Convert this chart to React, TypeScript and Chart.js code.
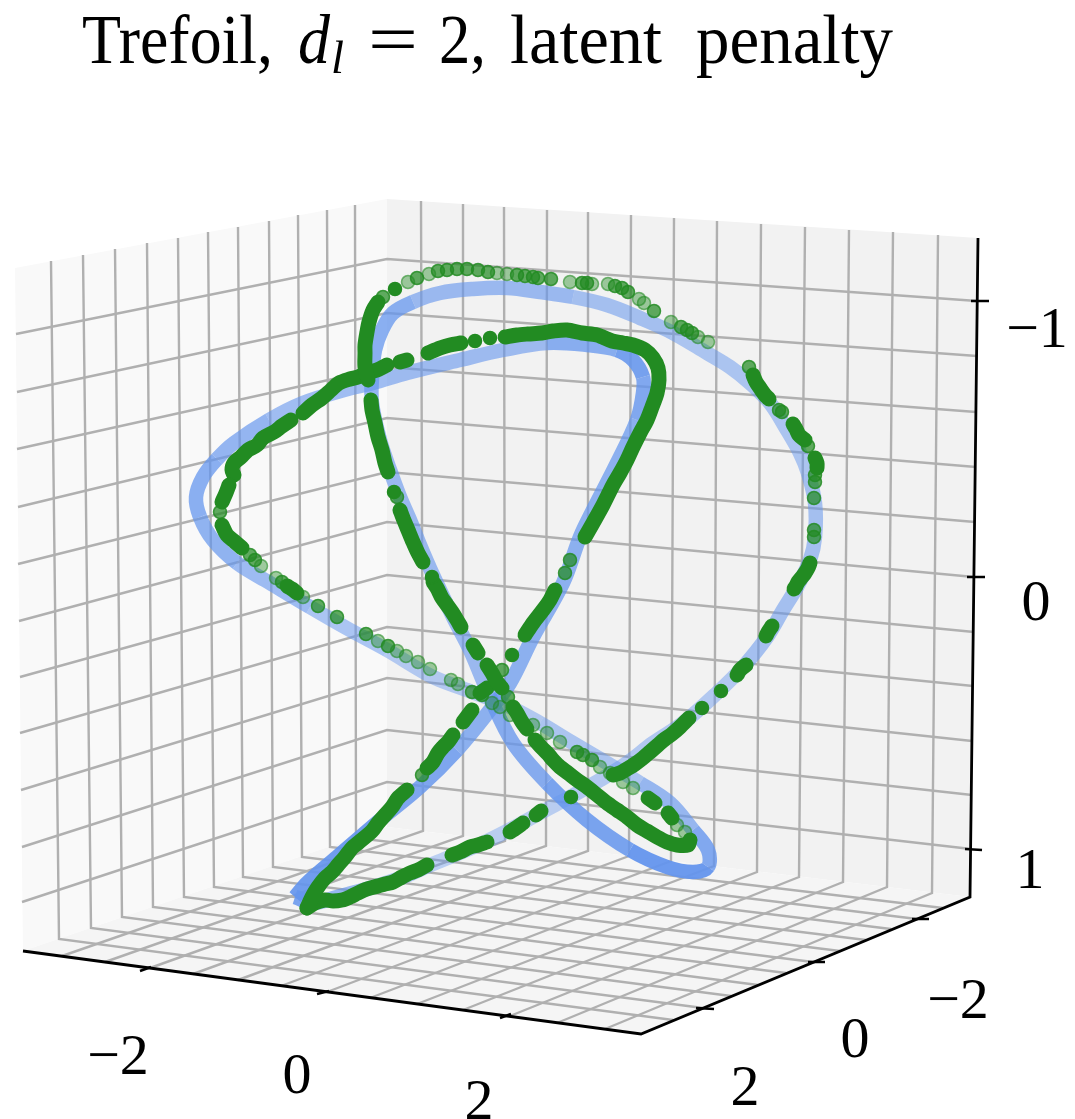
import React, { useEffect, useRef } from "react";
import { Chart, registerables } from "chart.js";

Chart.register(...registerables);

type P = [number, number];

const WIDTH = 1075;
const HEIGHT = 1119;

// --- axes box, as seen in the projected picture ---
const paneLeft: P[] = [[15, 268], [387, 199], [387, 827], [23, 951]];
const paneRight: P[] = [[387, 199], [978, 238], [970, 897], [387, 827]];
const paneFloor: P[] = [[23, 951], [387, 827], [970, 897], [641, 1034]];
const spine: P[] = [[23, 951], [641, 1034], [970, 897], [978, 238]];

const leftVertTop: P[] = [[51, 261], [83, 255], [115, 249], [147, 243], [178, 238], [208, 232], [238, 227], [269, 221], [298, 215], [327, 210], [355, 205]];
const leftVertBottom: P[] = [[59, 939], [91, 928], [122, 917], [153, 907], [184, 897], [214, 887], [243, 877], [273, 867], [302, 857], [330, 847], [356, 838]];
const floorFront: P[] = [[673, 1020], [703, 1008], [731, 996], [758, 985], [786, 973], [813, 962], [840, 951], [866, 940], [891, 929], [917, 919], [943, 908]];

const rightVertTop: P[] = [[421, 201], [463, 204], [504, 207], [547, 210], [588, 212], [631, 215], [674, 218], [717, 221], [761, 224], [805, 227], [849, 230], [893, 232], [938, 235]];
const rightVertBottom: P[] = [[423, 831], [463, 836], [505, 841], [546, 846], [588, 851], [629, 856], [671, 861], [714, 866], [757, 872], [799, 877], [843, 882], [887, 887], [932, 893]];
const floorLeftEdge: P[] = [[62, 956], [105, 962], [150, 968], [193, 974], [238, 980], [281, 986], [327, 992], [370, 998], [417, 1004], [463, 1010], [510, 1016], [557, 1023], [605, 1029]];

const horizLeft: P[] = [[16, 334], [17, 392], [17, 449], [18, 507], [18, 564], [19, 621], [20, 677], [20, 733], [21, 790], [22, 847], [22, 902]];
const horizBack: P[] = [[387, 259], [387, 313], [387, 367], [387, 418], [387, 472], [387, 522], [387, 575], [387, 627], [387, 678], [387, 730], [387, 782]];
const horizRight: P[] = [[977, 301], [977, 356], [976, 412], [976, 467], [975, 522], [974, 577], [974, 632], [973, 686], [972, 741], [972, 795], [971, 849]];

const tickMarks: [P, P][] = [
  [[971, 301], [989, 301]], [[967, 577], [985, 577]], [[965, 849], [982, 850]],
  [[140, 971], [151, 967]], [[317, 994], [329, 991]], [[500, 1018], [511, 1014]],
  [[912, 919], [929, 919]], [[808, 962], [825, 962]], [[696, 1008], [714, 1009]],
];

// --- tick labels ---
const zTickLabels = ["\u22121", "0", "1"];
const xTickLabels = ["\u22122", "0", "2"];
const yTickLabels = ["\u22122", "0", "2"];
const zTickPos: P[] = [[1037, 347], [1036, 620], [1030, 888]];
const xTickPos: P[] = [[118, 1074], [297, 1093], [479, 1119]];
const yTickPos: P[] = [[958, 1018], [855, 1057], [745, 1105]];

// --- the reference curve (blue), traced around its whole loop; each piece has one depth shade ---
const blueCurve: P[][] = [
  [[295, 897], [307, 883], [337, 857]],
  [[380, 820], [420, 787]],
  [[457, 750], [490, 710], [510, 683], [533, 637], [563, 583], [580, 537], [593, 510], [617, 463]],
  [[637, 420], [643, 393]],
  [[643, 377], [633, 360]],
  [[617, 350], [587, 345]],
  [[547, 343], [503, 350], [460, 360], [407, 373]],
  [[373, 383], [344, 390], [303, 403]],
  [[269, 420], [234, 443]],
  [[217, 459], [203, 477], [196, 497]],
  [[200, 517], [213, 540]],
  [[237, 563], [270, 583]],
  [[310, 607], [350, 630]],
  [[387, 650], [433, 677], [467, 690], [510, 707]],
  [[540, 723], [573, 743], [607, 763]],
  [[640, 783], [670, 803]],
  [[693, 830], [708, 850]],
  [[708, 867], [693, 872], [667, 867]],
  [[630, 850], [587, 820]],
  [[547, 783], [513, 743]],
  [[490, 697], [470, 650], [453, 617], [433, 575], [420, 545], [410, 520], [400, 497], [390, 470]],
  [[380, 440], [372, 403]],
  [[372, 377], [375, 350], [382, 330], [393, 313]],
  [[413, 302], [440, 293], [473, 289], [507, 288], [540, 292]],
  [[573, 297], [607, 305], [640, 318]],
  [[673, 333], [707, 353], [730, 367], [750, 383], [770, 403], [787, 430], [800, 453]],
  [[808, 473], [815, 503], [815, 537], [810, 560], [797, 587], [783, 610], [767, 637]],
  [[743, 667], [717, 693], [683, 723], [653, 743], [627, 763], [600, 780]],
  [[570, 797], [540, 813], [513, 828], [483, 843], [450, 857]],
  [[430, 865], [403, 877]],
  [[370, 888], [337, 897]],
  [[313, 903], [295, 897]],
];
const blueShade = [0.92, 0.82, 0.72, 0.8, 0.88, 0.75, 0.6, 0.6, 0.68, 0.75, 0.7, 0.62, 0.52, 0.45, 0.5, 0.65, 0.8, 0.95, 0.85, 0.76, 0.62, 0.68, 0.75, 0.62, 0.55, 0.5, 0.55, 0.45, 0.4, 0.5, 0.65, 0.85];

// --- decoded points (green): unbroken runs ---
const greenRuns: P[][] = [
  [[753, 375], [756, 382], [760, 388], [765, 395], [769, 399]],
  [[793, 424], [796, 429], [799, 435], [805, 440]],
  [[815, 458], [817, 463], [817, 468]],
  [[810, 563], [808, 568], [805, 573], [802, 577], [798, 582], [796, 586], [794, 589]],
  [[772, 626], [768, 632], [766, 636]],
  [[746, 665], [740, 670], [737, 675]],
  [[689, 718], [680, 727], [672, 734], [665, 739], [658, 745], [650, 752], [643, 758], [635, 764], [627, 769], [620, 773], [613, 775]],
  [[541, 811], [536, 815]],
  [[523, 823], [516, 828], [510, 832]],
  [[487, 842], [478, 845], [470, 847], [460, 852], [452, 855]],
  [[427, 865], [418, 870], [410, 873], [402, 877], [393, 882], [385, 884], [378, 886], [367, 889], [358, 893], [350, 897], [342, 900], [333, 901], [325, 900], [315, 903], [307, 908]],
  [[307, 908], [312, 897], [318, 887], [325, 878], [332, 872], [338, 865], [345, 857], [352, 848], [358, 843], [372, 831], [378, 823], [385, 815], [392, 807], [398, 798], [407, 790]],
  [[427, 768], [433, 762], [438, 753], [443, 747], [448, 742], [453, 735]],
  [[463, 722], [472, 710]],
  [[480, 693], [487, 688]],
  [[525, 635], [533, 623], [543, 610], [550, 600], [555, 590]],
  [[585, 537], [593, 523], [603, 505], [613, 485], [620, 473], [627, 460], [633, 447], [640, 433], [647, 420], [652, 407], [657, 393], [659, 380], [658, 368], [653, 358], [645, 350], [633, 345], [623, 343], [612, 341], [597, 335], [582, 333], [567, 330], [553, 331], [542, 333], [528, 334], [517, 335], [505, 337]],
  [[461, 343], [450, 345], [440, 348], [428, 353]],
  [[407, 360], [400, 362]],
  [[387, 365], [377, 370], [367, 373], [358, 377], [350, 379], [339, 383], [331, 390], [322, 398], [312, 405], [303, 413]],
  [[291, 420], [282, 426], [274, 432], [263, 438], [257, 445], [248, 450], [241, 457], [234, 463], [232, 470], [234, 475]],
  [[229, 485], [226, 493], [222, 502]],
  [[222, 525], [227, 535], [235, 542], [242, 548]],
  [[287, 586], [292, 589], [297, 593]],
  [[648, 798], [655, 803]],
  [[668, 813], [672, 818]],
  [[690, 840], [688, 845], [677, 845], [667, 842], [657, 837], [647, 831], [637, 825], [627, 817], [617, 810], [607, 803], [597, 795], [587, 787], [577, 780], [568, 773], [560, 767], [553, 760], [548, 754], [542, 748], [535, 740]],
  [[527, 729], [522, 722], [517, 713], [513, 707]],
  [[502, 688], [497, 682], [492, 673], [487, 665]],
  [[478, 653], [473, 645]],
  [[461, 627], [457, 620], [452, 612], [447, 605], [442, 598], [437, 588], [433, 582]],
  [[423, 562], [418, 553], [413, 542], [408, 530], [403, 518], [400, 510]],
  [[388, 472], [385, 463], [382, 450], [378, 437], [375, 423], [372, 410], [371, 400]],
  [[368, 380], [365, 367], [365, 353], [365, 345], [367, 332], [369, 322], [373, 310], [378, 302]],
];

// --- decoded points (green): single markers, by shade ---
const greenSolid: P[] = [[395, 289], [721, 691], [702, 708], [571, 797], [512, 655], [490, 338], [475, 341], [394, 492], [432, 577]];
const greenMid: P[] = [[417, 278], [438, 271], [447, 270], [457, 269], [467, 269], [478, 270], [488, 272], [517, 275], [525, 276], [533, 277], [538, 278], [551, 279], [582, 283], [587, 283], [615, 286], [622, 288], [628, 292], [654, 311], [681, 327], [687, 330], [692, 333], [749, 367], [779, 410], [782, 412], [808, 446], [815, 475], [815, 482], [814, 498], [814, 530], [814, 537], [422, 775], [502, 670], [565, 573], [570, 560], [220, 512], [250, 555], [255, 560], [282, 582], [318, 606], [337, 617], [366, 634], [388, 646], [472, 692], [482, 695], [577, 752], [583, 755], [592, 760], [508, 697], [397, 497], [383, 297]];
const greenFaint: P[] = [[408, 282], [429, 274], [497, 273], [507, 274], [570, 282], [592, 284], [608, 284], [639, 299], [644, 303], [671, 322], [698, 337], [708, 342], [261, 566], [276, 578], [303, 597], [378, 641], [397, 651], [406, 656], [418, 662], [430, 669], [451, 680], [458, 684], [492, 703], [500, 707], [510, 715], [533, 725], [547, 733], [560, 742], [600, 767], [610, 773], [623, 782], [633, 788], [677, 825], [685, 832]];

// --- title, word by word ---
const titleWords: { text: string; x: number; w: number; style: string; size: number; dy: number }[] = [
  { text: "Trefoil,", x: 82, w: 191, style: "", size: 69, dy: 0 },
  { text: "d", x: 298, w: 32, style: "italic", size: 69, dy: 0 },
  { text: "l", x: 331, w: 13, style: "italic", size: 46, dy: 10 },
  { text: "=", x: 368, w: 50, style: "", size: 69, dy: 0 },
  { text: "2,", x: 439, w: 47, style: "", size: 69, dy: 0 },
  { text: "latent", x: 510, w: 152, style: "", size: 69, dy: 0 },
  { text: "penalty", x: 696, w: 197, style: "", size: 69, dy: 0 },
];

const FONT = '"Liberation Serif"';
const GRID = "#b0b0b0";
const GREEN = "rgba(34,139,34,";
const BLUE = "rgba(100,149,237,";

const pts = (a: P[]) => a.map(([x, y]) => ({ x, y }));

const line = (a: P[], color: string, width: number, extra: object = {}) => ({
  data: pts(a),
  showLine: true,
  borderColor: color,
  borderWidth: width,
  pointRadius: 0,
  tension: 0,
  clip: false,
  ...extra,
});

const pane = (a: P[], color: string) =>
  line([...a, a[0]], "rgba(0,0,0,0)", 0, { fill: "shape", backgroundColor: color });

const scatter = (a: P[], fill: number, edge: number) => ({
  data: pts(a),
  showLine: false,
  pointRadius: 6.5,
  pointBorderWidth: 1.5,
  pointBackgroundColor: GREEN + fill + ")",
  pointBorderColor: GREEN + edge + ")",
  clip: false,
});

function buildDatasets() {
  const grid: any[] = [];
  leftVertTop.forEach((p, i) => grid.push(line([p, leftVertBottom[i], floorFront[i]], GRID, 2.4)));
  rightVertTop.forEach((p, i) => grid.push(line([p, rightVertBottom[i], floorLeftEdge[i]], GRID, 2.4)));
  horizLeft.forEach((p, i) => grid.push(line([p, horizBack[i], horizRight[i]], GRID, 2.4)));

  // One closed path, shaded by the piece each stretch starts in.
  const pieceOfPoint: number[] = [];
  blueCurve.forEach((piece, i) => piece.forEach(() => pieceOfPoint.push(i)));
  const blueLoop: P[] = blueCurve.flat();
  const blue = line([...blueLoop, blueLoop[0]], BLUE + "0.6)", 14.5, {
    tension: 0.35,
    segment: { borderColor: (c: any) => BLUE + blueShade[pieceOfPoint[c.p0DataIndex]] + ")" },
  });

  const runs = greenRuns.map((run) =>
    line(run, GREEN + "1)", 15, { borderCapStyle: "round", borderJoinStyle: "round", tension: 0.3 })
  );
  const ticks = tickMarks.map((t) => line(t, "#000", 2.5));

  // Chart.js paints the first dataset last, so the list is reversed at the end.
  return [
    pane(paneLeft, "#f9f9f9"),
    pane(paneRight, "#f2f2f2"),
    pane(paneFloor, "#f5f5f5"),
    ...grid,
    line(spine, "#000", 2.8, { borderJoinStyle: "miter" }),
    ...ticks,
    blue,
    scatter(greenFaint, 0.42, 0.6),
    scatter(greenMid, 0.72, 0.85),
    ...runs,
    scatter(greenSolid, 1, 1),
  ].reverse();
}

const textPlugin = {
  id: "textPlugin",
  afterDatasetsDraw(chart: any) {
    const { ctx, scales } = chart;
    const px = (v: number) => scales.x.getPixelForValue(v);
    const py = (v: number) => scales.y.getPixelForValue(v);
    ctx.save();
    ctx.fillStyle = "#000";
    ctx.textBaseline = "alphabetic";

    ctx.textAlign = "left";
    titleWords.forEach((w) => {
      ctx.font = `${w.style} ${w.size}px ${FONT}`;
      const natural = ctx.measureText(w.text).width;
      ctx.save();
      ctx.translate(px(w.x), py(63 + w.dy));
      ctx.scale(w.w / natural, 1);
      ctx.fillText(w.text, 0, 0);
      ctx.restore();
    });

    ctx.textAlign = "center";
    ctx.font = `58px ${FONT}`;
    const put = (labels: string[], at: P[]) =>
      labels.forEach((t, i) => ctx.fillText(t, px(at[i][0]), py(at[i][1])));
    put(zTickLabels, zTickPos);
    put(xTickLabels, xTickPos);
    put(yTickLabels, yTickPos);
    ctx.restore();
  },
};

export default function App() {
  const ref = useRef<HTMLCanvasElement>(null);
  useEffect(() => {
    document.body.style.margin = "0";
    const chart = new Chart(ref.current as HTMLCanvasElement, {
      type: "scatter",
      data: { datasets: buildDatasets() as any },
      options: {
        animation: false,
        responsive: false,
        layout: { padding: 0, autoPadding: false },
        plugins: { legend: { display: false }, tooltip: { enabled: false }, title: { display: false } },
        scales: {
          x: { type: "linear", min: 0, max: WIDTH, display: false },
          y: { type: "linear", min: 0, max: HEIGHT, reverse: true, display: false },
        },
      },
      plugins: [textPlugin],
    } as any);
    return () => chart.destroy();
  }, []);
  return <canvas ref={ref} width={WIDTH} height={HEIGHT} style={{ display: "block" }} />;
}
